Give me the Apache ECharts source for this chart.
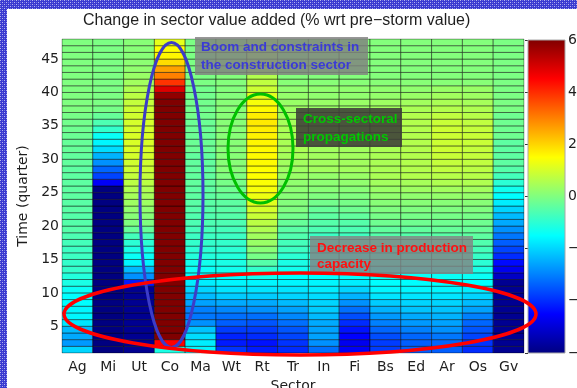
<!DOCTYPE html>
<html><head><meta charset="utf-8">
<script src="https://cdn.jsdelivr.net/npm/echarts@6/dist/echarts.min.js"></script>
<style>html,body{margin:0;padding:0;background:#fff}#c{width:577px;height:388px}</style>
</head><body><div id="c"></div>
<script>
// ---------------- data ----------------
const sectors = ['Ag','Mi','Ut','Co','Ma','Wt','Rt','Tr','In','Fi','Bs','Ed','Ar','Os','Gv'];
// values per sector for quarters 1..47 (cell q spans quarter q to q+1)
const Ag = [-2.0,-2.7,-2.5,-2.3,-1.8, -1.6,-1.6,-1.5,-1.5,-1.4, -1.2,-1.1,-0.9,-0.9,-0.8, -0.8,-0.7,-0.6,-0.5,-0.5, -0.5,-0.45,-0.45,-0.4,-0.4, -0.4,-0.4,-0.4,-0.35,-0.35, -0.3,-0.3,-0.25,-0.2,-0.15, -0.1,0.0,0.0,0.0,0.0, 0.0,0.0,0.0,0.0,0.0, 0.0,0.0];
const Mi = [-6,-6,-6,-6,-6, -6,-6,-6,-6,-6, -6,-6,-6,-6,-6, -6,-6,-6,-6,-6, -6,-6,-6,-6,-6, -4.6,-3.7,-3.3,-2.8,-2.4, -1.9,-1.6,-1.4,-0.9,-0.6, -0.3,-0.1,-0.05,-0.05,-0.05, -0.05,-0.05,-0.05,-0.05,-0.05, -0.05,-0.05];
const Ut = [-5.8,-5.8,-5.8,-5.8,-5.8, -5.8,-5.8,-5.8,-5.8,-5.8, -4.2,-2.8,-2.3,-1.6,-1.4, -1.2,-1.0,-0.7,-0.3,0.0, 0.1,0.2,0.35,0.45,0.55, 0.7,0.8,0.9,0.95,1.0, 1.05,1.05,1.05,1.0,1.0, 0.95,0.9,0.8,0.7,0.55, 0.4,0.3,0.2,0.15,0.1, 0.1,0.1];
const Co = [-1.2,4.5,6,6,6, 6,6,6,6,6, 6,6,6,6,6, 6,6,6,6,6, 6,6,6,6,6, 6,6,6,6,6, 6,6,6,6,6, 6,6,6,5.8,4.9, 3.9,3.0,2.6,1.9,1.6, 1.5,1.2];
const Ma = [-1.6,-1.7,-1.9,-2.2,-2.8, -3.1,-3.0,-2.6,-2.3,-2.0, -1.7,-1.5,-1.4,-1.3,-1.1, -1.0,-0.9,-0.8,-0.7,-0.6, -0.55,-0.5,-0.45,-0.4,-0.4, -0.35,-0.35,-0.35,-0.35,-0.35, -0.25,-0.25,-0.25,-0.25,-0.25, -0.15,-0.15,-0.15,-0.15,-0.15, -0.05,-0.05,-0.05,-0.05,-0.05, -0.05,-0.05];
const Wt = [-3.9,-4.2,-4.1,-3.8,-3.4, -3.2,-2.9,-2.5,-2.1,-1.8, -1.6,-1.5,-1.3,-1.2,-1.1, -1.0,-0.9,-0.8,-0.7,-0.6, -0.5,-0.45,-0.4,-0.3,-0.2, -0.1,0.0,0.1,0.1,0.1, 0.1,0.1,0.1,0.1,0.1, 0.1,0.1,0.1,0.05,0.05, 0.05,0.05,0.05,0.05,0.05, 0.05,0.05];
const Rt = [-4.2,-4.3,-4.0,-3.8,-3.5, -3.2,-2.8,-2.5,-2.1,-1.8, -1.6,-1.3,-0.9,-0.5,-0.1, 0.1,0.3,0.4,0.55,0.7, 0.85,1.0,1.15,1.3,1.4, 1.45,1.5,1.5,1.55,1.55, 1.55,1.6,1.65,1.7,1.75, 1.7,1.55,1.4,1.15,0.9, 0.75,0.6,0.5,0.4,0.35, 0.3,0.3];
const Tr = [-4.0,-3.9,-3.7,-3.5,-3.2, -2.9,-2.6,-2.3,-2.0,-1.8, -1.6,-1.5,-1.3,-1.2,-1.0, -0.8,-0.7,-0.55,-0.45,-0.3, -0.15,0.0,0.05,0.1,0.15, 0.2,0.3,0.35,0.4,0.45, 0.5,0.5,0.5,0.5,0.45, 0.4,0.35,0.3,0.25,0.2, 0.1,0.05,0.05,0.05,0.05, 0.05,0.05];
const In = [-3.2,-2.8,-2.6,-2.6,-2.5, -2.3,-2.1,-2.0,-1.9,-1.7, -1.6,-1.5,-1.4,-1.3,-1.1, -1.0,-0.9,-0.8,-0.6,-0.5, -0.4,-0.3,-0.15,0.0,0.1, 0.15,0.25,0.4,0.4,0.4, 0.4,0.4,0.4,0.4,0.4, 0.3,0.3,0.3,0.2,0.2, 0.1,0.05,0.05,0.05,0.05, 0.05,0.05];
const Fi = [-4.6,-4.7,-4.5,-4.3,-4.0, -3.6,-3.2,-2.8,-2.4,-2.0, -1.7,-1.5,-1.4,-1.3,-1.2, -1.0,-0.9,-0.75,-0.6,-0.5, -0.35,-0.2,-0.1,0.0,0.1, 0.2,0.3,0.4,0.4,0.4, 0.4,0.4,0.4,0.4,0.4, 0.3,0.3,0.3,0.2,0.2, 0.1,0.05,0.05,0.05,0.05, 0.05,0.05];
const Bs = [-3.8,-3.8,-3.6,-3.3,-3.0, -2.7,-2.4,-2.1,-1.8,-1.6, -1.5,-1.4,-1.3,-1.1,-1.0, -0.85,-0.7,-0.5,-0.35,-0.2, -0.1,0.0,0.1,0.2,0.3, 0.4,0.5,0.5,0.5,0.5, 0.5,0.5,0.5,0.5,0.5, 0.5,0.4,0.35,0.25,0.2, 0.1,0.05,0.05,0.05,0.05, 0.05,0.05];
const Ed = [-3.4,-3.4,-3.3,-3.0,-2.7, -2.5,-2.2,-2.0,-1.8,-1.6, -1.5,-1.4,-1.3,-1.1,-1.0, -0.85,-0.7,-0.5,-0.35,-0.2, -0.1,0.0,0.1,0.2,0.35, 0.45,0.6,0.6,0.6,0.6, 0.6,0.6,0.6,0.6,0.6, 0.6,0.5,0.4,0.3,0.2, 0.1,0.05,0.05,0.05,0.05, 0.05,0.05];
const Ar = [-3.4,-3.3,-3.1,-2.8,-2.6, -2.4,-2.2,-2.0,-1.8,-1.6, -1.5,-1.4,-1.2,-1.0,-0.9, -0.7,-0.6,-0.45,-0.3,-0.2, -0.1,0.0,0.1,0.25,0.4, 0.55,0.65,0.75,0.8,0.85, 0.9,0.9,0.9,0.9,0.85, 0.75,0.6,0.5,0.4,0.3, 0.1,0.05,0.05,0.05,0.05, 0.05,0.05];
const Os = [-4.0,-3.9,-3.7,-3.5,-3.3, -3.0,-2.6,-2.3,-2.0,-1.7, -1.5,-1.4,-1.2,-1.0,-0.85, -0.7,-0.55,-0.4,-0.3,-0.2, -0.1,0.0,0.1,0.25,0.4, 0.55,0.65,0.7,0.75,0.8, 0.8,0.85,0.85,0.8,0.75, 0.65,0.55,0.45,0.35,0.3, 0.1,0.05,0.05,0.05,0.05, 0.05,0.05];
const Gv = [-5.8,-5.8,-5.8,-5.8,-5.8, -5.8,-5.8,-5.8,-5.8,-5.8, -5.8,-5.2,-4.7,-4.4,-4.0, -3.7,-3.4,-3.1,-2.8,-2.5, -2.3,-2.0,-1.7,-1.5,-1.3, -1.0,-0.7,-0.5,-0.4,-0.4, -0.4,-0.4,-0.2,-0.2,-0.2, -0.2,-0.05,-0.05,-0.05,-0.05, -0.05,-0.05,-0.05,-0.05,-0.05, -0.05,-0.05];
const sectorValues = [Ag, Mi, Ut, Co, Ma, Wt, Rt, Tr, In, Fi, Bs, Ed, Ar, Os, Gv];
const yTicks = [5, 10, 15, 20, 25, 30, 35, 40, 45];
const cbTicks = [-6, -4, -2, 0, 2, 4, 6];
const firstQuarter = 1, lastQuarter = 48;

// ---------------- build ----------------
const cells = [];
sectorValues.forEach((arr, i) => arr.forEach((v, j) => cells.push([i, firstQuarter + j, v])));

const FONT = '"Liberation Sans", Arial, Helvetica, sans-serif';
const AXFONT = '"DejaVu Sans", "Liberation Sans", Arial, sans-serif';
const TXT = '#1e1e1e';
const jet = ['#000080','#0000ff','#0080ff','#00ffff','#80ff80','#ffff00','#ff8000','#ff0000','#800000'];

// patterned slide border
const pc = document.createElement('canvas'); pc.width = 4; pc.height = 4;
const g = pc.getContext('2d');
g.fillStyle = '#3a3ad0'; g.fillRect(0, 0, 4, 4);
g.fillStyle = '#b4b4f0'; g.fillRect(0, 0, 1, 1); g.fillRect(2, 2, 1, 1);
g.fillStyle = '#6e6ee0'; g.fillRect(2, 0, 1, 1); g.fillRect(0, 2, 1, 1);

function renderCell(params, api) {
  const x = api.value(0), q = api.value(1);
  const p0 = api.coord([x, q]);
  const p1 = api.coord([x, q + 1]);
  const w = api.size([1, 0])[0];
  return {
    type: 'rect',
    shape: { x: p0[0] - w / 2, y: p1[1], width: w, height: p0[1] - p1[1] },
    style: { fill: api.visual('color'), stroke: 'rgba(0,0,0,0.45)', lineWidth: 1 }
  };
}

const chart = echarts.init(document.getElementById('c'), null, { renderer: 'canvas' });
chart.setOption({
  animation: false,
  backgroundColor: '#ffffff',
  title: {
    text: 'Change in sector value added (% wrt pre\u2212storm value)',
    left: 83, top: 13, padding: 0,
    textStyle: { fontFamily: FONT, fontSize: 16, fontWeight: 'normal', color: TXT }
  },
  grid: [
    { left: 62, top: 39, width: 462, height: 314, show: true, borderColor: '#bdbdbd', borderWidth: 1, outerBoundsMode: 'none', containLabel: false },
    { left: 528, top: 40, width: 37, height: 313, outerBoundsMode: 'none', containLabel: false }
  ],
  xAxis: [
    { type: 'category', gridIndex: 0, data: sectors, boundaryGap: true,
      axisLine: { show: false }, axisTick: { show: false },
      axisLabel: { fontFamily: AXFONT, fontSize: 14, color: TXT, margin: 7, interval: 0 },
      name: 'Sector', nameLocation: 'middle', nameGap: 24,
      nameTextStyle: { fontFamily: AXFONT, fontSize: 14, color: TXT } },
    { type: 'value', gridIndex: 1, show: false, min: 0, max: 1 }
  ],
  yAxis: [
    { type: 'value', gridIndex: 0, min: firstQuarter, max: lastQuarter,
      axisLine: { show: false }, axisTick: { show: false }, splitLine: { show: false },
      axisLabel: { customValues: yTicks, fontFamily: AXFONT, fontSize: 14, color: TXT, margin: 3 },
      name: 'Time (quarter)', nameLocation: 'middle', nameGap: 31, nameRotate: 90,
      nameTextStyle: { fontFamily: AXFONT, fontSize: 14, color: TXT } },
    { type: 'value', gridIndex: 1, position: 'right', min: cbTicks[0], max: cbTicks[cbTicks.length - 1], interval: 2,
      axisLine: { show: false }, splitLine: { show: false },
      axisTick: { show: true, inside: true, length: 3, lineStyle: { color: '#333' } },
      axisLabel: { fontFamily: AXFONT, fontSize: 14, color: TXT, margin: 3, hideOverlap: false,
        formatter: v => v < 0 ? '\u2212' + Math.abs(v) : String(v) } }
  ],
  visualMap: {
    type: 'continuous', min: cbTicks[0], max: cbTicks[cbTicks.length - 1], dimension: 2, seriesIndex: 0,
    show: false, inRange: { color: jet }
  },
  series: [
    { type: 'custom', coordinateSystem: 'cartesian2d', xAxisIndex: 0, yAxisIndex: 0,
      renderItem: renderCell, encode: { x: 0, y: 1 }, data: cells, clip: true }
  ],
  graphic: { elements: [
    // colour bar (legend of the jet colour scale)
    { type: 'rect', z: 5, shape: { x: 528, y: 40, width: 37, height: 313 },
      style: { stroke: '#a8a8a8', lineWidth: 1, fill: new echarts.graphic.LinearGradient(0, 1, 0, 0,
        jet.map((c, i) => ({ offset: i / (jet.length - 1), color: c }))) } },

    { type: 'rect', z: 200, shape: { x: 0, y: 0, width: 577, height: 9 }, style: { fill: { image: pc, repeat: 'repeat' } } },
    { type: 'rect', z: 200, shape: { x: 0, y: 0, width: 7, height: 388 }, style: { fill: { image: pc, repeat: 'repeat' } } },

    { type: 'rect', z: 100, shape: { x: 195, y: 37, width: 173, height: 38 }, style: { fill: 'rgba(128,128,128,0.82)' } },
    { type: 'text', z: 101, style: { x: 201, y: 38, text: 'Boom and constraints in\nthe construction sector', fill: '#3b3bd6',
      font: 'bold 13.5px ' + FONT, lineHeight: 18, verticalAlign: 'top' } },

    { type: 'rect', z: 100, shape: { x: 296, y: 108, width: 106, height: 39 }, style: { fill: 'rgba(62,62,56,0.88)' } },
    { type: 'text', z: 101, style: { x: 303, y: 110, text: 'Cross-sectoral\npropagations', fill: '#00c800',
      font: 'bold 13.5px ' + FONT, lineHeight: 18, verticalAlign: 'top' } },

    { type: 'rect', z: 100, shape: { x: 310, y: 236, width: 163, height: 38 }, style: { fill: 'rgba(132,132,132,0.82)' } },
    { type: 'text', z: 101, style: { x: 317, y: 240, text: 'Decrease in production\ncapacity', fill: '#ff1010',
      font: 'bold 13.5px ' + FONT, lineHeight: 16, verticalAlign: 'top' } },

    { type: 'ellipse', z: 110, shape: { cx: 171.5, cy: 195, rx: 31.5, ry: 152.5 }, style: { fill: null, stroke: '#3c3cc8', lineWidth: 3 } },
    { type: 'ellipse', z: 110, shape: { cx: 260.5, cy: 148.5, rx: 32.5, ry: 54.5 }, style: { fill: null, stroke: '#00c000', lineWidth: 3 } },
    { type: 'ellipse', z: 110, shape: { cx: 300, cy: 314, rx: 236, ry: 41 }, style: { fill: null, stroke: '#ff0000', lineWidth: 3.5 } }
  ] }
});
</script></body></html>
